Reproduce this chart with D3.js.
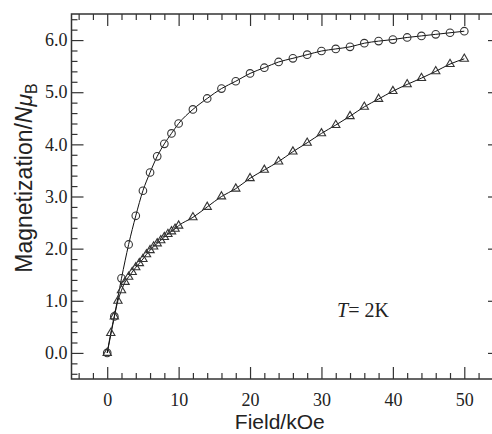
<!DOCTYPE html>
<html>
<head>
<meta charset="utf-8">
<script src="https://cdn.jsdelivr.net/npm/d3@7"></script>
<style>
html,body{margin:0;padding:0;background:#fff;}
svg{display:block;}
</style>
</head>
<body>
<svg id="chart" width="492" height="434"></svg>
<script>
// Data
const circleField = [0,1,2,3,4,5,6,7,8,9,10,12,14,16,18,20,22,24,26,28,30,32,34,36,38,40,42,44,46,48,50];
const circleM = [0,0.70,1.43,2.08,2.63,3.11,3.46,3.77,4.01,4.21,4.40,4.67,4.88,5.07,5.21,5.36,5.47,5.58,5.65,5.72,5.79,5.83,5.87,5.94,5.98,6.01,6.05,6.08,6.11,6.14,6.17];
const triField = [0,0.5,1.0,1.5,2.0,2.5,3.0,3.5,4.0,4.5,5.0,5.5,6.0,6.5,7.0,7.5,8.0,8.5,9.0,9.5,10.0,12,14,16,18,20,22,24,26,28,30,32,34,36,38,40,42,44,46,48,50];
const triM = [0,0.38,0.70,1.00,1.20,1.36,1.46,1.55,1.64,1.72,1.80,1.89,1.97,2.04,2.10,2.16,2.22,2.28,2.33,2.38,2.44,2.60,2.80,3.00,3.15,3.35,3.51,3.67,3.86,4.03,4.21,4.37,4.54,4.72,4.87,5.02,5.15,5.27,5.40,5.54,5.64];
const xMajorTicks = [0,10,20,30,40,50];
const yMajorTicks = [0,1,2,3,4,5,6];
const yTickLabels = ["0.0","1.0","2.0","3.0","4.0","5.0","6.0"];

const svg = d3.select("#chart");
const L = 71.5, R = 500, T = 14, B = 379;
const x = d3.scaleLinear().domain([-5,55]).range([L,R]);
const y = d3.scaleLinear().domain([-0.5,6.5]).range([B,T]);
const ink = "#333";

const xMinor = d3.range(-4,55,2).filter(v => v % 10 !== 0);
const yMinor = d3.range(-4,65,2).map(v => v/10).filter(v => Math.abs(v - Math.round(v)) > 1e-6);

function axisG(axis, tx, ty){
  const g = svg.append("g").attr("transform",`translate(${tx},${ty})`).call(axis);
  g.select(".domain").remove();
  g.selectAll("line").attr("stroke",ink).attr("stroke-width",1.2);
  return g;
}
// bottom
axisG(d3.axisBottom(x).tickValues(xMinor).tickSize(-6).tickFormat(""),0,B);
const bx = axisG(d3.axisBottom(x).tickValues(xMajorTicks).tickSize(-12).tickPadding(16).tickFormat(d3.format("d")),0,B);
// top
axisG(d3.axisTop(x).tickValues(xMinor).tickSize(-6).tickFormat(""),0,T);
axisG(d3.axisTop(x).tickValues(xMajorTicks).tickSize(-12).tickFormat(""),0,T);
// left
axisG(d3.axisLeft(y).tickValues(yMinor).tickSize(-6).tickFormat(""),L,0);
const ly = axisG(d3.axisLeft(y).tickValues(yMajorTicks).tickSize(-12).tickPadding(4).tickFormat((d,i)=>yTickLabels[i]),L,0);
// right
axisG(d3.axisRight(y).tickValues(yMinor).tickSize(-6).tickFormat(""),R,0);
axisG(d3.axisRight(y).tickValues(yMajorTicks).tickSize(-12).tickFormat(""),R,0);

[bx,ly].forEach(g=>g.selectAll("text").attr("font-family","'Liberation Serif','Times New Roman',serif").attr("font-size",18).attr("fill","#222"));
ly.selectAll("text").attr("x",-4);
bx.selectAll("text").attr("dy","0.71em").attr("y",14);

// frame
svg.append("rect").attr("x",L).attr("y",T).attr("width",R-L).attr("height",B-T)
  .attr("fill","none").attr("stroke",ink).attr("stroke-width",1.5);

// lines
const line = d3.line().x(d=>x(d[0])).y(d=>y(d[1])).curve(d3.curveMonotoneX);
const cData = circleField.map((f,i)=>[f,circleM[i]]);
const tData = triField.map((f,i)=>[f,triM[i]]);
svg.append("path").attr("d",line(cData)).attr("fill","none").attr("stroke","#111").attr("stroke-width",1);
svg.append("path").attr("d",line(tData)).attr("fill","none").attr("stroke","#111").attr("stroke-width",1);

// markers
svg.append("g").selectAll("circle").data(cData).join("circle")
  .attr("cx",d=>x(d[0])).attr("cy",d=>y(d[1])).attr("r",3.8)
  .attr("fill","none").attr("stroke","#333").attr("stroke-width",1.1);
const tri = d3.symbol().type(d3.symbolTriangle).size(30);
svg.append("g").selectAll("path").data(tData).join("path")
  .attr("d",tri).attr("transform",d=>`translate(${x(d[0])},${y(d[1])})`)
  .attr("fill","none").attr("stroke","#333").attr("stroke-width",1.1);

// axis titles
svg.append("text").attr("x",(L+R)/2-6).attr("y",429).attr("text-anchor","middle")
  .attr("font-family","'Liberation Sans',Arial,sans-serif").attr("font-size",21).attr("fill","#222")
  .text("Field/kOe");
const yt = svg.append("text").attr("transform",`translate(32,178) rotate(-90)`).attr("text-anchor","middle")
  .attr("font-family","'Liberation Sans',Arial,sans-serif").attr("font-size",23).attr("fill","#222");
yt.append("tspan").text("Magnetization/");
yt.append("tspan").attr("font-style","italic").text("N\u03BC");
yt.append("tspan").attr("font-size",16).attr("dy",5).text("B");

// annotation
const ann = svg.append("text").attr("x",337).attr("y",317)
  .attr("font-family","'Liberation Serif','Times New Roman',serif").attr("font-size",20).attr("fill","#222");
ann.append("tspan").attr("font-style","italic").text("T");
ann.append("tspan").text("= 2K");
</script>
</body>
</html>
